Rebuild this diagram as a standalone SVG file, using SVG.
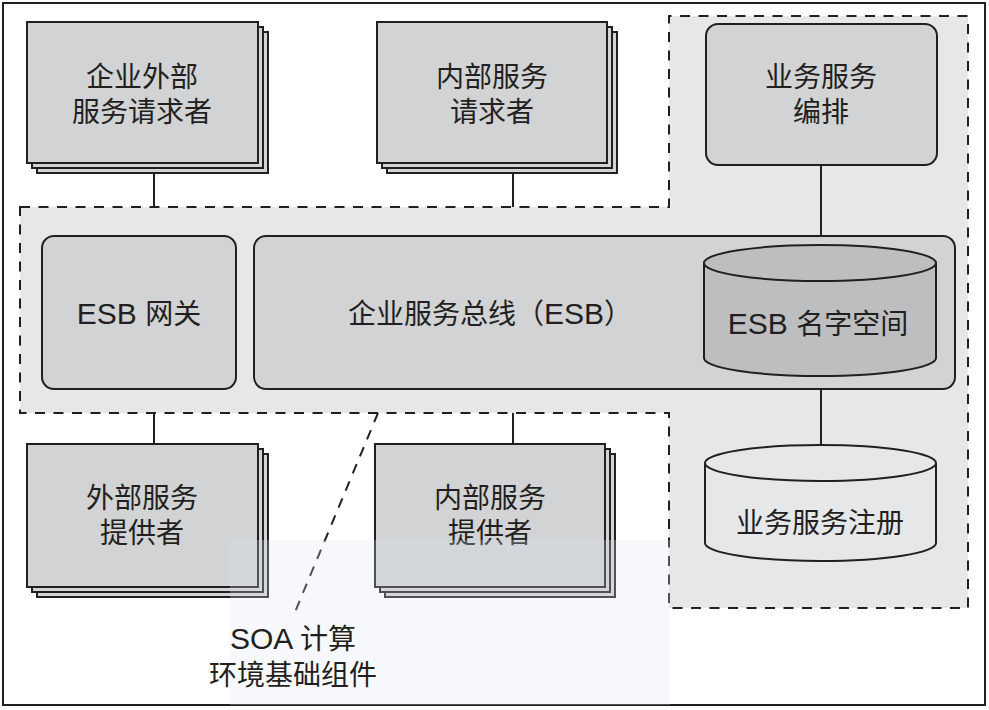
<svg xmlns="http://www.w3.org/2000/svg" width="989" height="710" viewBox="0 0 989 710">
<style>
  text { font-family: "Liberation Sans", "Noto Sans CJK SC", sans-serif; font-size: 28px; fill: #231f20; text-anchor: middle; }
  .lat { font-size: 30px; }
  .box { fill: #d1d3d4; stroke: #231f20; stroke-width: 2; }
  .line { stroke: #231f20; stroke-width: 2; fill: none; }
  .dash { stroke: #231f20; stroke-width: 2; stroke-dasharray: 10 8.5; }
</style>
<rect x="0" y="0" width="989" height="710" fill="#ffffff"/>
<rect x="3" y="3" width="982" height="702" fill="#ffffff" stroke="#231f20" stroke-width="2"/>

<g id="soa-region">
  <path d="M20,207 H669 V16 H968 V608 H669 V413 H20 Z" fill="#e6e7e8" class="dash"/>
</g>

<g id="connectors">
  <line class="line" x1="154" y1="173" x2="154" y2="207"/>
  <line class="line" x1="513" y1="173" x2="513" y2="207"/>
  <line class="line" x1="821" y1="165" x2="821" y2="236"/>
  <line class="line" x1="821" y1="389" x2="821" y2="445"/>
  <line class="line" x1="154" y1="413" x2="154" y2="444"/>
  <line class="line" x1="513" y1="413" x2="513" y2="444"/>
  <line class="dash" x1="378" y1="413" x2="295" y2="612"/>
</g>

<g id="ext-requester">
  <rect class="box" x="37" y="32" width="231" height="141"/>
  <rect class="box" x="32" y="27" width="231" height="141"/>
  <rect class="box" x="27" y="22" width="231" height="141"/>
  <text x="142" y="87">企业外部</text>
  <text x="142" y="122">服务请求者</text>
</g>

<g id="int-requester">
  <rect class="box" x="387" y="32" width="230" height="141"/>
  <rect class="box" x="382" y="27" width="230" height="141"/>
  <rect class="box" x="377" y="22" width="230" height="141"/>
  <text x="492" y="87">内部服务</text>
  <text x="492" y="122">请求者</text>
</g>

<g id="orchestration">
  <rect class="box" x="706" y="24" width="231" height="141" rx="12"/>
  <text x="821" y="87">业务服务</text>
  <text x="821" y="122">编排</text>
</g>

<g id="esb-gateway">
  <rect class="box" x="42" y="236" width="194" height="153" rx="12"/>
  <text x="139" y="324"><tspan class="lat">ESB </tspan>网关</text>
</g>

<g id="esb-bus">
  <rect class="box" x="254" y="236" width="701" height="153" rx="12"/>
  <text x="490" y="324">企业服务总线（<tspan class="lat">ESB</tspan>）</text>
</g>

<g id="esb-namespace">
  <path d="M704,263 V358 A116,18 0 0 0 936,358 V263 A116,18 0 0 0 704,263 Z" fill="#bcbec0" stroke="#231f20" stroke-width="2"/>
  <path d="M704,263 A116,18 0 0 0 936,263" fill="none" stroke="#231f20" stroke-width="2"/>
  <text x="818" y="334"><tspan class="lat">ESB </tspan>名字空间</text>
</g>

<g id="registry">
  <path d="M705,463 V543 A115.5,18 0 0 0 936,543 V463 A115.5,18 0 0 0 705,463 Z" fill="#e6e7e8" stroke="#231f20" stroke-width="2"/>
  <path d="M705,463 A115.5,18 0 0 0 936,463" fill="none" stroke="#231f20" stroke-width="2"/>
  <text x="820" y="533">业务服务注册</text>
</g>

<g id="ext-provider">
  <rect class="box" x="37" y="454" width="231" height="143"/>
  <rect class="box" x="32" y="449" width="231" height="143"/>
  <rect class="box" x="27" y="444" width="231" height="143"/>
  <text x="142" y="508">外部服务</text>
  <text x="142" y="543">提供者</text>
</g>

<g id="int-provider">
  <rect class="box" x="385" y="454" width="230" height="143"/>
  <rect class="box" x="380" y="449" width="230" height="143"/>
  <rect class="box" x="375" y="444" width="230" height="143"/>
  <text x="490" y="508">内部服务</text>
  <text x="490" y="543">提供者</text>
</g>

<rect x="230" y="540" width="440" height="165" fill="#dde3f0" opacity="0.25"/>

<g id="soa-label">
  <text x="293" y="649"><tspan class="lat">SOA </tspan>计算</text>
  <text x="293" y="685">环境基础组件</text>
</g>
</svg>
